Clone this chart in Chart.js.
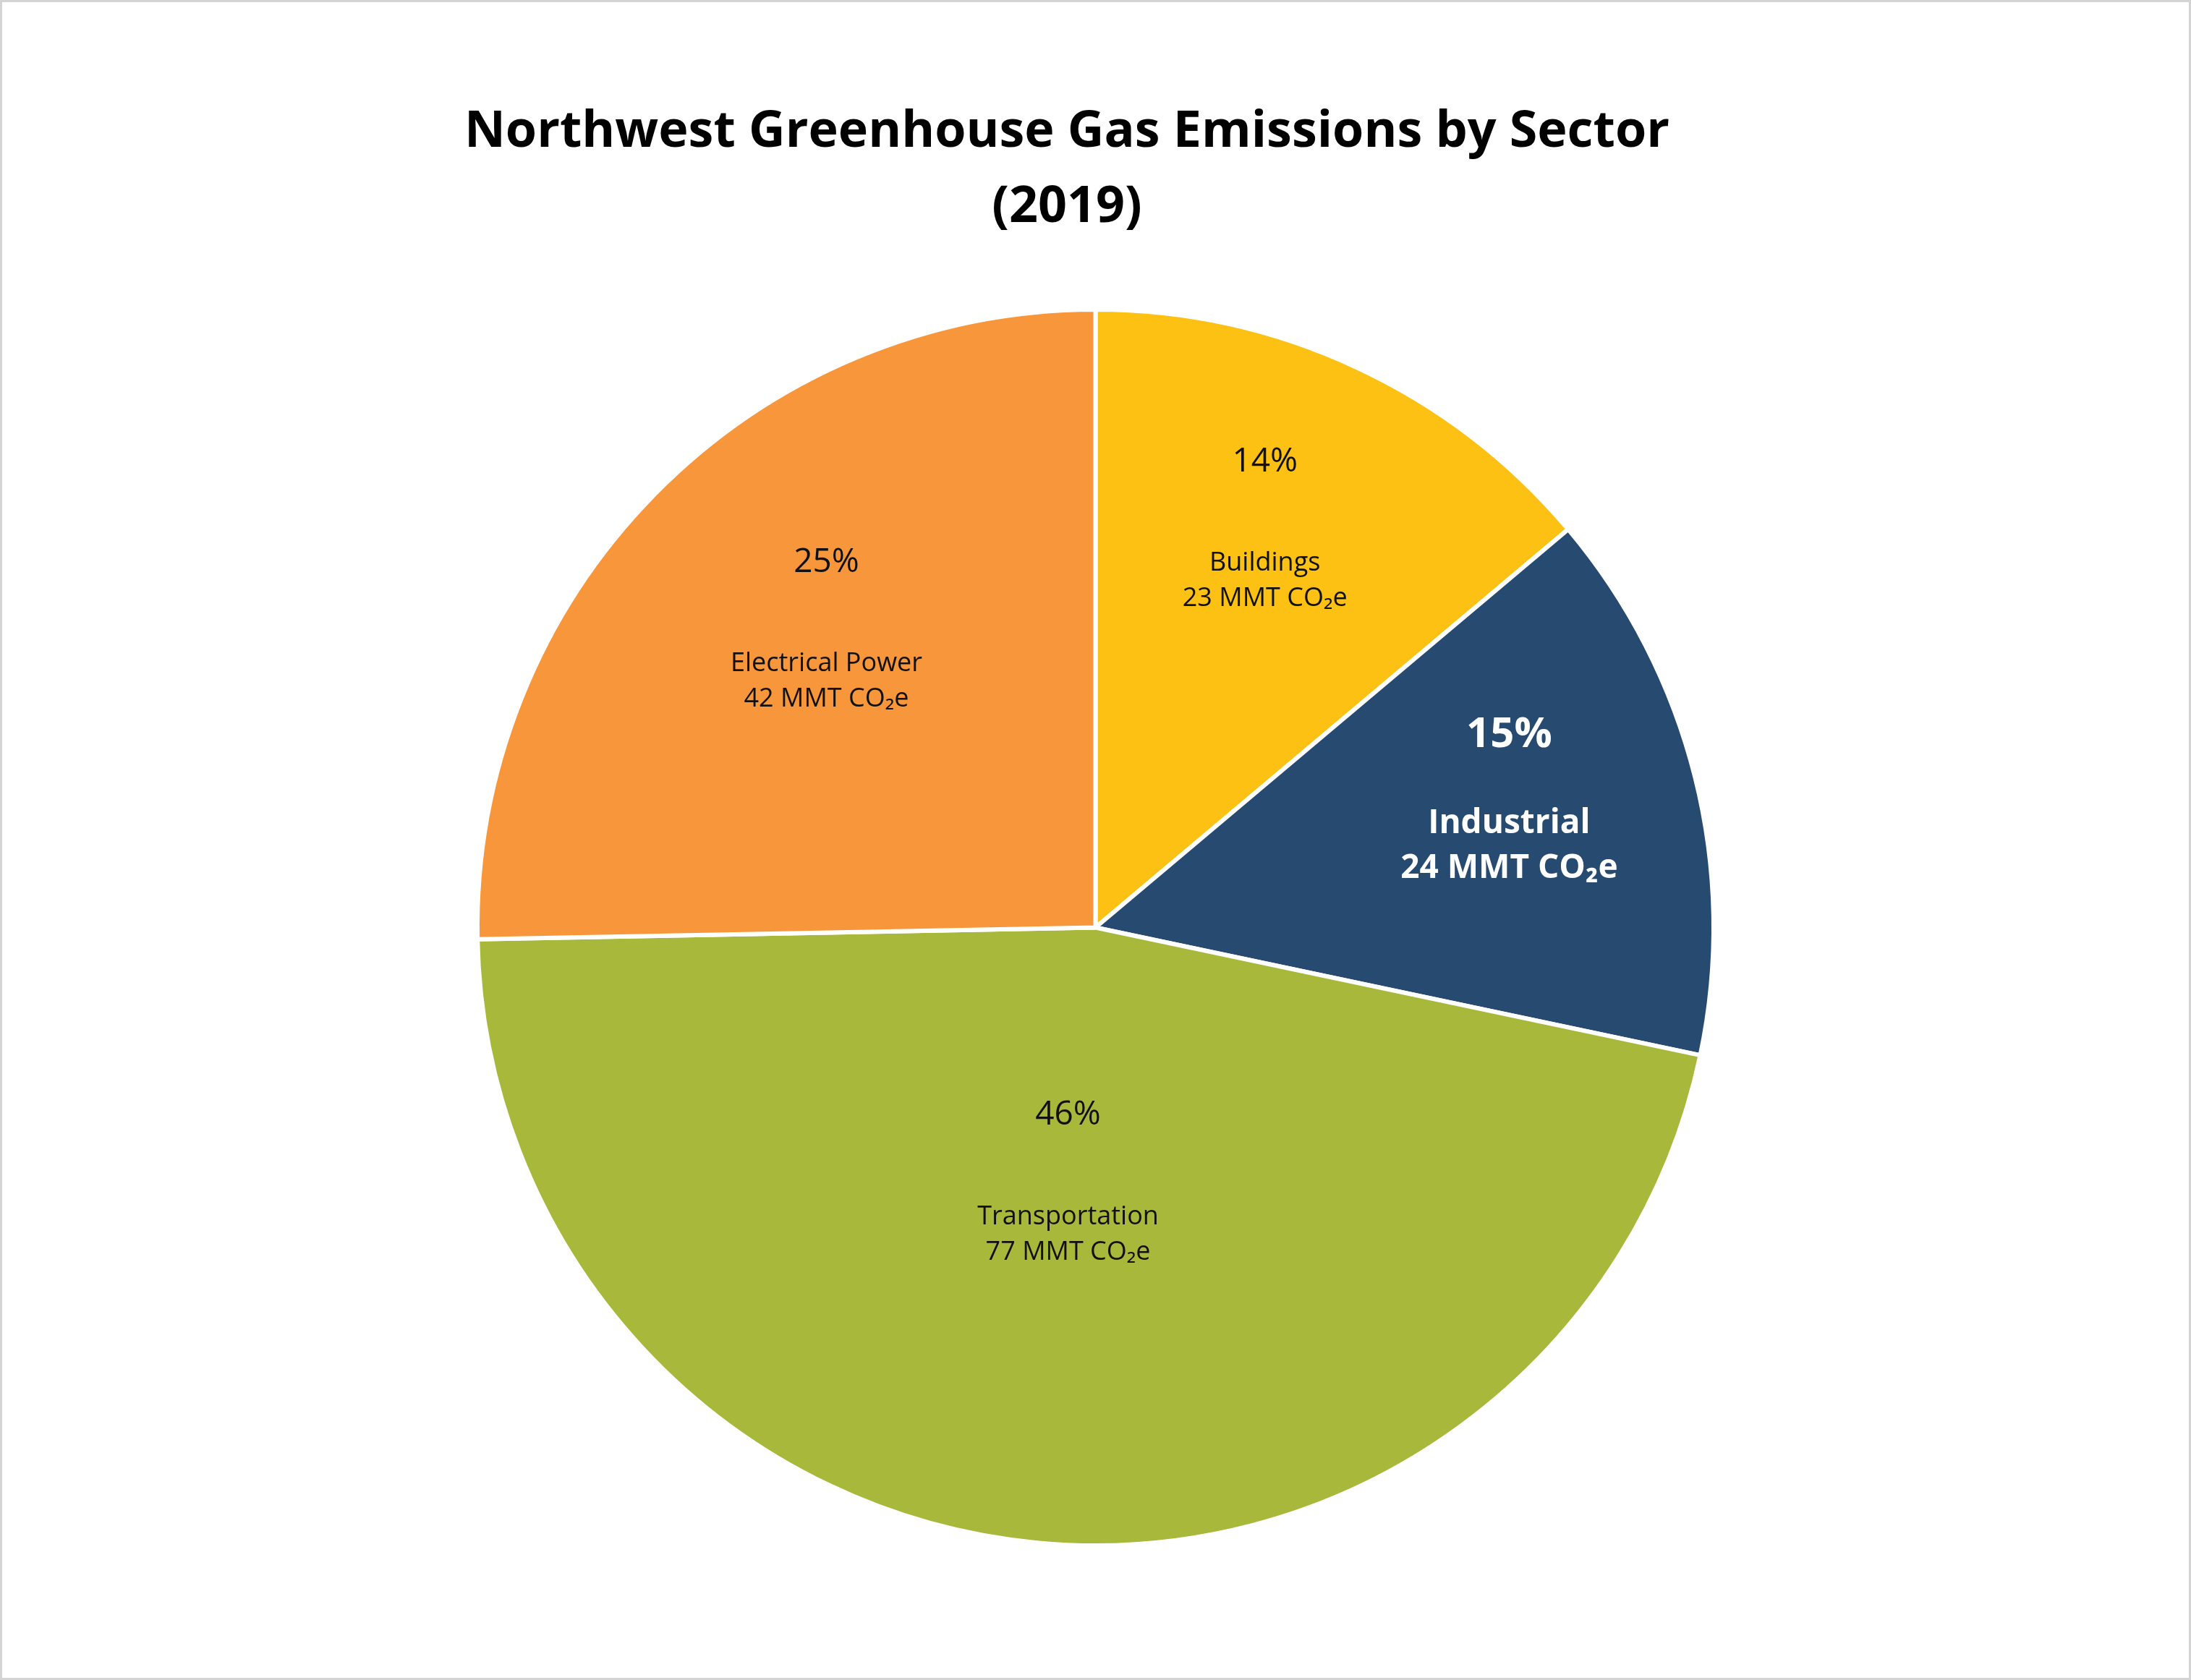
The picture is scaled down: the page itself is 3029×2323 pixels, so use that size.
<!DOCTYPE html>
<html>
<head>
<meta charset="utf-8">
<script src="https://cdn.jsdelivr.net/npm/chart.js@4"></script>
<style>
  html, body { margin: 0; padding: 0; background: #fff; }
  #wrap { position: relative; width: 3029px; height: 2323px; box-sizing: border-box; border: 3px solid #d4d4d4; }
</style>
</head>
<body>
<div id="wrap"><canvas id="chart"></canvas></div>
<script>
"use strict";

const sectors = ["Buildings", "Industrial", "Transportation", "Electrical Power"];
const emissions = [23, 24, 77, 42];
const percentLabels = ["14%", "15%", "46%", "25%"];
const sliceColors = ["#FDC113", "#264A70", "#A8B83B", "#F7963A"];

// how far out from the centre each label block sits (fraction of radius)
const labelRadius = [0.65, 0.69, 0.47, 0.61];
const boldLabel = [false, true, false, false];

const labelPlugin = {
  id: "sliceLabels",
  afterDraw(chart) {
    const ctx = chart.ctx;
    const arcs = chart.getDatasetMeta(0).data;
    ctx.save();
    ctx.textAlign = "center";
    ctx.textBaseline = "middle";
    arcs.forEach((arc, i) => {
      const mid = (arc.startAngle + arc.endAngle) / 2;
      const r = arc.outerRadius * labelRadius[i];
      const x = arc.x + Math.cos(mid) * r;
      const y = arc.y + Math.sin(mid) * r;
      const bold = boldLabel[i];
      ctx.fillStyle = bold ? "#ffffff" : "#111111";
      ctx.font = (bold ? "bold 58px" : "46px") + " 'Open Sans'";
      ctx.fillText(percentLabels[i], x, y - (bold ? 122 : 140));
      ctx.font = (bold ? "bold 46px" : "36px") + " 'Open Sans'";
      ctx.fillText(sectors[i], x, y);
      ctx.fillText(emissions[i] + " MMT CO₂e", x, y + (bold ? 62 : 49));
    });
    // title
    ctx.fillStyle = "#000";
    ctx.font = "bold 70px 'Open Sans'";
    ctx.fillText("Northwest Greenhouse Gas Emissions by Sector", 1472, 180);
    ctx.fillText("(2019)", 1472, 284);
    ctx.restore();
  }
};

new Chart(document.getElementById("chart"), {
  type: "pie",
  data: {
    labels: sectors,
    datasets: [{
      data: emissions,
      backgroundColor: sliceColors,
      borderColor: "#ffffff",
      borderWidth: 6
    }]
  },
  options: {
    responsive: true,
    maintainAspectRatio: false,
    devicePixelRatio: 1,
    animation: false,
    layout: { padding: { top: 422, bottom: 180, left: 0, right: 0 } },
    plugins: {
      legend: { display: false },
      tooltip: { enabled: false }
    }
  },
  plugins: [labelPlugin]
});
</script>
</body>
</html>
